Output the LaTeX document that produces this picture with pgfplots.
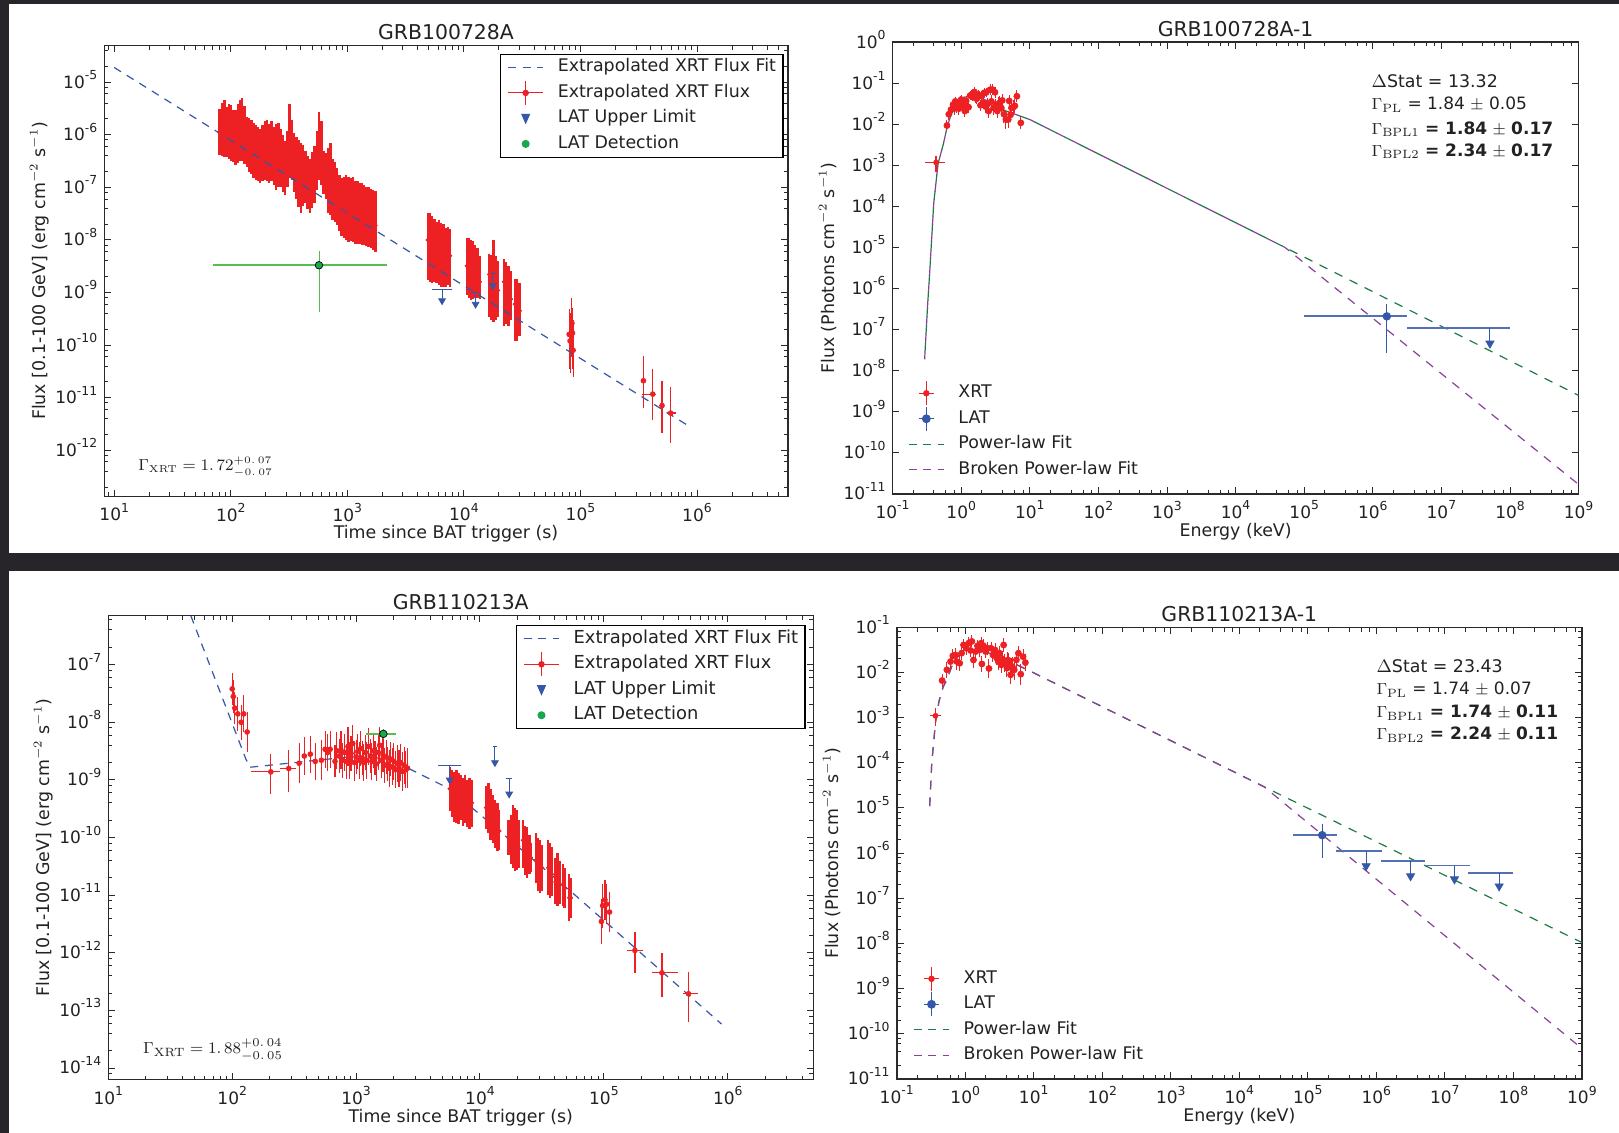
\documentclass[border=0pt]{standalone}
\usepackage[no-math]{fontspec}
\setmainfont{DejaVu Sans}
\usepackage{pgfplots}
\usepackage{pgfplotstable}
\pgfplotsset{compat=1.18}
\definecolor{bgdark}{HTML}{27252A}
\definecolor{axisc}{HTML}{2A2A2A}
\definecolor{textc}{HTML}{222222}
\definecolor{xrtred}{HTML}{ED2024}
\definecolor{latblue}{HTML}{3557A7}
\definecolor{fitgreen}{HTML}{1E7B45}
\definecolor{fitpurple}{HTML}{8A3F9A}
\definecolor{detgreen}{HTML}{18A84E}
\definecolor{detline}{HTML}{55BE4F}
\newcommand{\fs}{\fontsize{8.7}{10}\selectfont}
\newcommand{\fsg}{\fontsize{8.5}{10}\selectfont}
\newcommand{\fsc}{\fontsize{8.95}{10}\selectfont}
\newcommand{\pw}[1]{10\raisebox{.5em}{\fontsize{6.2}{7}\selectfont #1}}
\def\subsall#1{2e#1,3e#1,4e#1,5e#1,6e#1,7e#1,8e#1,9e#1}
\def\subsfour#1{2e#1,4e#1,6e#1,8e#1}
\edef\axminor{9e0,\subsall{1},\subsall{2},\subsall{3},\subsall{4},\subsall{5},2e6,3e6,4e6,5e6}
\edef\ayminor{\subsfour{-13},\subsfour{-12},\subsfour{-11},\subsfour{-10},\subsfour{-9},\subsfour{-8},\subsfour{-7},\subsfour{-6},2e-5,4e-5}
\edef\cxminor{\subsall{1},\subsall{2},\subsall{3},\subsall{4},\subsall{5},2e6,3e6,4e6}
\edef\cyminor{\subsfour{-15},\subsfour{-14},\subsfour{-13},\subsfour{-12},\subsfour{-11},\subsfour{-10},\subsfour{-9},\subsfour{-8},2e-7,4e-7,6e-7}
\edef\exminor{\subsfour{-1},\subsfour{0},\subsfour{1},\subsfour{2},\subsfour{3},\subsfour{4},\subsfour{5},\subsfour{6},\subsfour{7},\subsfour{8}}
\edef\dyminor{\subsfour{-11},\subsfour{-10},\subsfour{-9},\subsfour{-8},\subsfour{-7},\subsfour{-6},\subsfour{-5},\subsfour{-4},\subsfour{-3},\subsfour{-2}}
\pgfplotsset{
  scale only axis,
  xminorticks=false,yminorticks=false,
  extra tick style={major tick length=2.1pt,xticklabel=\empty,yticklabel=\empty},
  axis line style={line width=.8pt,color=axisc},
  tick style={line width=.5pt,color=axisc},
  major tick length=3.4pt,
  tick label style={font=\fsg,text=textc},
  yticklabel style={yshift=1.4pt},
  every axis title/.style={at={(axis description cs:.5,1)},anchor=center,yshift=6.6pt,font=\fontsize{10.2}{12}\selectfont,text=textc},
  every axis x label/.style={at={(axis description cs:.5,0)},anchor=center,yshift=-18.8pt,font=\fs,text=textc},
  every axis y label/.style={at={(axis description cs:0,.5)},xshift=-32.5pt,rotate=90,anchor=center,font=\fs,text=textc},
  legend cell align=left,
 lg/.style={legend style={font=\fs,text=textc,inner xsep=3.5pt,inner ysep=2.5pt,line width=.6pt,draw=black,
   row sep=4.45pt,column sep=7pt,nodes={inner sep=0pt,text height=6.4pt,text depth=1.9pt}}},
 nolg/.style={legend style={font=\fs,text=textc,inner xsep=3.5pt,inner ysep=2.5pt,draw=none,fill=none,
   row sep=4.45pt,column sep=7pt,nodes={inner sep=0pt,text height=6.4pt,text depth=1.9pt}}},
 xrtband/.style={forget plot,only marks,mark=*,mark size=.9pt,color=xrtred,
   error bars/.cd,y dir=both,y explicit,error mark=none,error bar style={line width=1.2pt,color=xrtred}},
 xrtthin/.style={forget plot,only marks,mark=*,mark size=1.2pt,color=xrtred,
   error bars/.cd,y dir=both,y explicit,error mark=none,error bar style={line width=.55pt,color=xrtred}},
 xrtcross/.style={forget plot,only marks,mark=*,mark size=1.2pt,color=xrtred,
   error bars/.cd,y dir=both,y explicit,x dir=both,x explicit,error mark=none,error bar style={line width=.6pt,color=xrtred}},
 xrtspec/.style={forget plot,only marks,mark=*,mark size=1.5pt,color=xrtred,
   error bars/.cd,y dir=both,y explicit,x dir=both,x explicit,error mark=none,error bar style={line width=.5pt,color=xrtred}},
 ullevel/.style={forget plot,draw=none,mark=none,error bars/.cd,x dir=both,x explicit,
   error mark=none,error bar style={line width=.7pt,color=latblue}},
 ullevelb/.style={forget plot,draw=none,mark=none,error bars/.cd,x dir=both,x explicit,
   error mark=none,error bar style={line width=.9pt,color=latblue!85}},
 ularrow/.style={forget plot,only marks,color=latblue,mark=triangle*,mark size=#1,mark options={rotate=180,fill=latblue,draw=latblue},
   error bars/.cd,y dir=plus,y explicit,error mark=none,error bar style={line width=.5pt,color=latblue}},
 fitblue/.style={forget plot,color=latblue,line width=.6pt,dash pattern=on 4pt off 3.4pt},
 fitg/.style={forget plot,color=fitgreen,line width=.6pt,dash pattern=on 4.4pt off 4pt},
 fitp/.style={forget plot,color=fitpurple,line width=.6pt,dash pattern=on 4.4pt off 4pt},
 /pgfplots/table/bandt/.style={x=t,y=y,y error plus expr=\thisrow{hi}-\thisrow{y},y error minus expr=\thisrow{y}-\thisrow{lo}},
 /pgfplots/table/fact/.style={x=t,y=y,y error plus expr=\thisrow{y}*(\thisrow{f}-1),y error minus expr=\thisrow{y}*(1-1/\thisrow{f})},
 /pgfplots/table/spect/.style={x=t,y=y,y error plus expr=\thisrow{y}*(\thisrow{f}-1),y error minus expr=\thisrow{y}*(1-1/\thisrow{f}),x error plus expr=\thisrow{t}*0.05,x error minus expr=\thisrow{t}*0.05},
 /pgfplots/table/crosst/.style={x=t,y=y,y error plus expr=\thisrow{hi}-\thisrow{y},y error minus expr=\thisrow{y}-\thisrow{lo},x error plus expr=\thisrow{xhi}-\thisrow{t},x error minus expr=\thisrow{t}-\thisrow{xlo}},
 /pgfplots/table/hbar/.style={x=t,y=y,x error plus expr=\thisrow{xhi}-\thisrow{t},x error minus expr=\thisrow{t}-\thisrow{xlo}},
 /pgfplots/table/ullt/.style={x=t,y=top,x error plus expr=\thisrow{xhi}-\thisrow{t},x error minus expr=\thisrow{t}-\thisrow{xlo}},
 /pgfplots/table/ult/.style={x=t,y=tip,y error plus expr=\thisrow{top}-\thisrow{tip}},
}
% legend glyphs
\pgfplotsset{
 lgfit/.style={legend image code/.code={\draw[#1,line width=.6pt,dash pattern=on 4pt off 3.2pt] (0pt,0pt)--(17.5pt,0pt);}},
 lgcross/.style={legend image code/.code={\draw[#1,line width=.55pt] (0pt,0pt)--(17.5pt,0pt);\draw[#1,line width=.55pt,overlay] (8.75pt,-6pt)--(8.75pt,6pt);\fill[#1,overlay] (8.75pt,0pt) circle (1.3pt);}},
 lgtri/.style={legend image code/.code={\path[draw=none,fill=none,use as bounding box] (0pt,0pt) rectangle (17.5pt,0pt);\fill[latblue,overlay] (6.9pt,2pt)--(10.6pt,2pt)--(8.75pt,-2.2pt)--cycle;}},
 lgdot/.style={legend image code/.code={\path[draw=none,fill=none,use as bounding box] (0pt,0pt) rectangle (17.5pt,0pt);\fill[detgreen,overlay] (8.75pt,0pt) circle (1.7pt);}},
 lgcross2/.style={legend image code/.code={\path[draw=none,fill=none,use as bounding box] (0pt,0pt) rectangle (17.5pt,0pt);\draw[latblue,line width=.55pt,overlay] (5pt,0pt)--(12.5pt,0pt) (8.75pt,-6pt)--(8.75pt,6pt);\fill[latblue,overlay] (8.75pt,0pt) circle (2pt);}},
 lgcross1/.style={legend image code/.code={\path[draw=none,fill=none,use as bounding box] (0pt,0pt) rectangle (17.5pt,0pt);\draw[xrtred,line width=.55pt,overlay] (5pt,0pt)--(12.5pt,0pt) (8.75pt,-6pt)--(8.75pt,6pt);\fill[xrtred,overlay] (8.75pt,0pt) circle (1.4pt);}},
}
% ---------- panel A data
\pgfplotstableread{
t y lo hi
80 1.1e-6 4.1e-7 3.1e-6
84 1.3e-6 3.9e-7 4.0e-6
88 1.2e-6 3.7e-7 4.6e-6
92 1.1e-6 3.8e-7 3.4e-6
96 1.2e-6 3.5e-7 3.9e-6
100 1.0e-6 3.2e-7 3.6e-6
105 9e-7 3.0e-7 2.9e-6
110 9e-7 2.7e-7 2.9e-6
115 1.0e-6 2.9e-7 3.8e-6
120 1.2e-6 3.2e-7 4.6e-6
125 1.2e-6 3.1e-7 4.9e-6
131 9e-7 2.8e-7 3.5e-6
137 7e-7 2.4e-7 2.2e-6
143 6.5e-7 2.0e-7 2.1e-6
150 6e-7 1.8e-7 1.9e-6
157 5e-7 1.5e-7 1.7e-6
164 4.6e-7 1.4e-7 1.5e-6
171 4.3e-7 1.3e-7 1.4e-6
179 4e-7 1.2e-7 1.3e-6
187 4.4e-7 1.3e-7 1.5e-6
196 5e-7 1.4e-7 1.8e-6
205 5e-7 1.3e-7 1.9e-6
214 4.4e-7 1.2e-7 1.6e-6
224 4.8e-7 1.3e-7 1.8e-6
234 4e-7 1.1e-7 1.4e-6
245 3.8e-7 9e-8 1.6e-6
256 4.1e-7 1.0e-7 1.7e-6
268 3.6e-7 1.0e-7 1.3e-6
280 2.8e-7 8e-8 1.0e-6
293 2.3e-7 7.2e-8 7.5e-7
306 3.4e-7 1.0e-7 1.2e-6
320 7.5e-7 1.5e-7 3.9e-6
335 5e-7 1.4e-7 1.9e-6
350 3e-7 8e-8 1.1e-6
366 2.3e-7 6e-8 9e-7
382 1.9e-7 4.3e-8 8e-7
400 1.5e-7 3.2e-8 7e-7
418 1.7e-7 4.5e-8 6.5e-7
437 1.6e-7 5e-8 5e-7
457 1.2e-7 3.8e-8 3.9e-7
478 1e-7 3.2e-8 3.5e-7
500 1.4e-7 4e-8 4.8e-7
523 1.8e-7 5e-8 6e-7
547 3.2e-7 9e-8 1.2e-6
572 6.5e-7 1.4e-7 2.7e-6
598 4.5e-7 1.1e-7 1.8e-6
625 1.9e-7 7.5e-8 5e-7
654 1.7e-7 6e-8 4.5e-7
684 1.3e-7 3.2e-8 5.5e-7
715 1.4e-7 3e-8 7e-7
747 8e-8 2.4e-8 3.4e-7
781 7e-8 2.2e-8 3e-7
817 6e-8 1.9e-8 2.3e-7
854 5e-8 1.5e-8 1.7e-7
893 4.2e-8 1.2e-8 1.5e-7
934 4e-8 1.1e-8 1.6e-7
976 3.8e-8 1.0e-8 1.7e-7
1020 3.6e-8 9e-9 1.6e-7
1067 3.5e-8 9.5e-9 1.5e-7
1115 3.4e-8 9e-9 1.6e-7
1166 3e-8 8.5e-9 1.3e-7
1219 3e-8 8.5e-9 1.3e-7
1275 2.9e-8 8.2e-9 1.2e-7
1333 2.8e-8 8e-9 1.2e-7
1394 2.6e-8 8e-9 1.1e-7
1457 2.4e-8 7.6e-9 1e-7
1523 2.3e-8 7.2e-9 1e-7
1593 2.2e-8 7e-9 9.5e-8
1665 2.1e-8 6.4e-9 9e-8
1741 1.9e-8 6e-9 8.5e-8
4900 1.0e-8 1.7e-9 3.3e-8
5120 8e-9 1.6e-9 3.3e-8
5350 7e-9 1.5e-9 2.8e-8
5590 7e-9 1.6e-9 2.5e-8
5840 6e-9 1.5e-9 2.2e-8
6100 6.5e-9 1.4e-9 2.4e-8
6380 5.5e-9 1.3e-9 2.1e-8
6670 5e-9 1.3e-9 2e-8
6970 4.5e-9 1.3e-9 1.7e-8
7280 4.5e-9 1.4e-9 1.8e-8
7600 5e-9 1.3e-9 1.6e-8
10600 3.2e-9 9e-10 1.1e-8
11000 2.6e-9 8e-10 1.1e-8
11500 2.4e-9 7.3e-10 1e-8
12000 2.6e-9 7.5e-10 9.5e-9
12500 2e-9 8e-10 8e-9
13100 1.8e-9 8e-10 7e-9
13700 1.6e-9 7.5e-10 5e-9
16500 2.2e-9 3.5e-10 5.5e-9
17200 1.5e-9 3e-10 5.2e-9
17900 1.3e-9 2.8e-10 1e-8
18700 1.2e-9 3e-10 5e-9
19600 1.1e-9 3.5e-10 4e-9
22100 1.6e-9 2.3e-10 4.4e-9
23000 1.2e-9 2.5e-10 3.8e-9
24100 9e-10 2.3e-10 3.2e-9
25300 7.5e-10 3e-10 2.6e-9
27400 6e-10 1.2e-10 1.8e-9
28700 5.5e-10 1.2e-10 1.8e-9
30100 4.5e-10 1.5e-10 1.5e-9
}\bandA
\pgfplotstableread{
t y lo hi
80000 1.6e-10 3.5e-11 4.9e-10
81500 1.2e-10 3e-11 4e-10
84500 2.6e-10 6e-11 7.9e-10
85500 1.7e-10 3.5e-11 5e-10
86500 8e-11 2.5e-11 3e-10
347000 2.1e-11 6.3e-12 6.2e-11
501000 7.1e-12 2.1e-12 2.1e-11
}\thinA
\pgfplotstableread{
t y lo hi xlo xhi
417000 1.17e-11 3.8e-12 3.5e-11 339000 447000
594000 5.1e-12 1.4e-12 1.6e-11 550000 660000
}\crossA
\pgfplotstableread{
t top tip xlo xhi
6500 1.15e-9 7e-10 5370 7900
12600 1e-9 6e-10 11500 13500
17700 2.3e-9 1.35e-9 16800 18700
}\ulA
% ---------- panel B data
\pgfplotstableread{
t y f
0.62 0.0093 1.35
0.66 0.0175 1.4
0.71 0.0226 1.4
0.76 0.030 1.35
0.79 0.024 1.4
0.82 0.036 1.3
0.855 0.026 1.4
0.885 0.030 1.35
0.925 0.024 1.4
0.97 0.036 1.35
1.0 0.040 1.3
1.045 0.028 1.4
1.08 0.030 1.35
1.13 0.021 1.4
1.18 0.037 1.35
1.24 0.026 1.4
1.28 0.026 1.35
1.35 0.050 1.3
1.41 0.052 1.3
1.48 0.047 1.3
1.56 0.061 1.3
1.63 0.043 1.3
1.69 0.042 1.35
1.76 0.052 1.3
1.82 0.050 1.3
1.91 0.029 1.35
2.0 0.050 1.3
2.08 0.033 1.35
2.15 0.058 1.3
2.25 0.027 1.4
2.3 0.059 1.3
2.43 0.031 1.4
2.52 0.021 1.45
2.63 0.069 1.35
2.75 0.036 1.4
2.84 0.070 1.35
2.97 0.025 1.45
3.11 0.060 1.35
3.21 0.030 1.4
3.36 0.021 1.5
3.52 0.031 1.45
3.67 0.034 1.45
3.84 0.025 1.45
3.97 0.038 1.4
4.2 0.0175 1.6
4.49 0.013 1.7
4.85 0.013 1.6
5.0 0.037 1.4
5.25 0.017 1.5
5.4 0.025 1.5
5.73 0.026 1.5
6.06 0.028 1.5
6.48 0.048 1.4
7.4 0.0108 1.45
}\specB
% ---------- panel C data
\pgfplotstableread{
t y lo hi
5700 7e-10 2.9e-10 1.7e-9
5940 6.5e-10 2.3e-10 1.5e-9
6190 5.5e-10 1.9e-10 1.4e-9
6450 5.5e-10 1.8e-10 1.5e-9
6720 5e-10 1.7e-10 1.3e-9
7000 5e-10 2e-10 1.2e-9
7290 4.5e-10 1.6e-10 1.1e-9
7600 4.5e-10 1.8e-10 1.2e-9
7920 4e-10 1.5e-10 1e-9
8250 4e-10 1.4e-10 1.1e-9
8600 4e-10 1.5e-10 1e-9
11200 3.3e-10 1.4e-10 8e-10
11700 3e-10 1.2e-10 8.8e-10
12200 2.4e-10 9e-11 7e-10
12700 2e-10 8e-11 5.5e-10
13200 1.7e-10 6.5e-11 4.5e-10
13800 1.5e-10 5.9e-11 4e-10
14300 1.3e-10 6e-11 3e-10
17000 1e-10 5e-11 2e-10
17700 9e-11 3.5e-11 2.5e-10
18400 1.1e-10 3e-11 3.7e-10
19100 9e-11 2.6e-11 3.2e-10
19900 8e-11 2.7e-11 3e-10
20400 7e-11 3e-11 2e-10
22200 9e-11 3e-11 2e-10
23100 6e-11 2.2e-11 1.6e-10
24000 5.5e-11 2e-11 1.5e-10
25000 5e-11 2.3e-11 1.1e-10
25700 4.5e-11 2.5e-11 8e-11
28200 4e-11 1.6e-11 1.2e-10
29300 3.5e-11 1.2e-11 1e-10
30500 3e-11 1.1e-11 9e-11
31600 3e-11 1.2e-11 7.5e-11
35500 3e-11 1e-11 9e-11
36600 2.5e-11 9e-12 8e-11
38000 2.3e-11 9.5e-12 7e-11
40700 1.7e-11 7e-12 4.5e-11
42200 1.9e-11 6.6e-12 5.5e-11
43700 1.6e-11 7e-12 4e-11
46800 1.5e-11 6.5e-12 3.5e-11
48200 1.3e-11 6e-12 3e-11
52500 9e-12 3.5e-12 2.3e-11
54200 9e-12 4e-12 2e-11
}\bandC
\pgfplotstableread{
t y f
100 3.8e-8 1.9
102 2.8e-8 1.9
105 1.76e-8 1.9
111 1.4e-8 2
118 1e-8 2
124 1.4e-8 2.1
132 6.8e-9 2.2
347 1.95e-9 2.2
382 2.6e-9 2.1
427 2.8e-9 2.1
468 2.1e-9 2.1
525 2.2e-9 2.2
562 3.4e-9 2.1
590 3e-9 2.1
617 3.4e-9 2.1
676 2.1e-9 1.9
700 3.2e-9 2.1
730 2.6e-9 2
755 3.3e-9 2.1
780 2.2e-9 2
810 3.0e-9 2.1
835 2.1e-9 2
860 3.8e-9 2.2
885 2.2e-9 2.1
910 2.9e-9 2
940 4.3e-9 2.1
970 2e-9 2.1
1000 2.5e-9 2
1030 3.1e-9 2
1060 2.2e-9 2.1
1090 3.5e-9 2
1120 2.4e-9 2
1150 2.0e-9 2.1
1190 3.0e-9 2
1220 2.2e-9 2.1
1260 3.8e-9 2.1
1300 2.6e-9 2
1340 2.1e-9 2.1
1380 3.2e-9 2
1420 2.4e-9 2
1460 1.9e-9 2
1510 3e-9 2
1550 4e-9 2.1
1600 2.2e-9 2
1650 2.7e-9 2
1700 1.8e-9 2
1750 2.5e-9 2
1800 1.9e-9 2
1850 1.6e-9 2.1
1900 2.3e-9 2
1960 1.7e-9 2.1
2020 2.1e-9 2.1
2080 1.5e-9 2.1
2150 1.9e-9 2.1
2220 1.6e-9 2.1
2290 2.0e-9 2.1
2360 1.4e-9 2.2
2440 1.8e-9 2.1
2520 1.5e-9 2.1
2600 1.6e-9 2.2
95500 3.5e-12 2.5
97700 6.6e-12 2.4
102000 8.3e-12 2.2
105000 7e-12 2.2
111000 5.1e-12 2.2
}\thinC
\pgfplotstableread{
t y lo hi xlo xhi
205 1.38e-9 5.7e-10 2.8e-9 141 245
286 1.58e-9 6.3e-10 3.3e-9 245 325
178000 1.1e-12 4.4e-13 2.3e-12 155000 207000
294000 4.5e-13 1.7e-13 1e-12 243000 398000
482000 1.95e-13 6.3e-14 4.6e-13 434000 580000
}\crossC
\pgfplotstableread{
t top tip xlo xhi
5690 1.8e-9 1e-9 4570 7080
13200 3.8e-9 2e-9 12700 13700
17200 1.05e-9 5.7e-10 16200 18200
}\ulC
% ---------- panel D data
\pgfplotstableread{
t y f
0.46 6.65e-3 1.4
0.54 0.0115 1.5
0.61 0.0175 1.45
0.66 0.0234 1.45
0.72 0.0245 1.4
0.755 0.0175 1.5
0.83 0.0161 1.5
0.885 0.0268 1.4
0.945 0.0408 1.35
1.035 0.0345 1.4
1.12 0.0447 1.35
1.2 0.0308 1.4
1.25 0.049 1.35
1.32 0.019 1.5
1.42 0.0292 1.4
1.51 0.0389 1.35
1.62 0.0316 1.4
1.71 0.0447 1.35
1.75 0.0155 1.5
1.85 0.0389 1.4
1.98 0.0292 1.4
2.1 0.0345 1.4
2.22 0.0123 1.6
2.38 0.0345 1.4
2.54 0.0245 1.45
2.72 0.0316 1.4
2.88 0.0209 1.45
3.04 0.0175 1.5
3.18 0.0268 1.45
3.36 0.0148 1.5
3.5 0.0200 1.5
3.64 0.0408 1.4
3.8 0.0162 1.55
4.07 0.0125 1.6
4.2 0.0190 1.5
4.35 0.0175 1.55
4.6 0.0089 1.6
4.75 0.0130 1.6
4.87 0.0136 1.6
5.2 0.0115 1.65
5.58 0.019 1.5
5.97 0.0268 1.45
6.46 0.0092 1.7
6.98 0.0224 1.5
7.55 0.0166 1.55
}\specD
\pgfplotstableread{
t top tip xlo xhi
7.1e5 1.1e-6 5.2e-7 2.6e5 1.2e6
3.16e6 6.6e-7 3.1e-7 1.15e6 5.1e6
1.38e7 5.3e-7 2.65e-7 5.1e6 2.3e7
6.2e7 3.7e-7 1.85e-7 2.2e7 1e8
}\ulD
\begin{document}
\begin{tikzpicture}[x=1pt,y=1pt]
\useasboundingbox (0,0) rectangle (809.5,566.5);
\fill[bgdark] (0,0) rectangle (809.5,566.5);
\fill[white] (4.5,290.2) rectangle (809.5,564.5);
\fill[white] (4.5,0) rectangle (809.5,281);
% ===== A
\begin{loglogaxis}[lg,anchor=south west,at={(52.15pt,318.3pt)},width=341.7pt,height=225.5pt,
 title={GRB100728A},xlabel={Time since BAT trigger (s)},
 ylabel={Flux [0.1-100 GeV] (erg cm$^{-2}$ s$^{-1}$)},
 xmin=8.22,xmax=6e6,ymin=1.33e-13,ymax=5e-5,
 xtick={1e1,1e2,1e3,1e4,1e5,1e6},xticklabels={\pw{1},\pw{2},\pw{3},\pw{4},\pw{5},\pw{6}},
 ytick={1e-12,1e-11,1e-10,1e-9,1e-8,1e-7,1e-6,1e-5},
 yticklabels={\pw{-12},\pw{-11},\pw{-10},\pw{-9},\pw{-8},\pw{-7},\pw{-6},\pw{-5}},
 extra x ticks/.expanded={\axminor},extra y ticks/.expanded={\ayminor},
 legend style={at={(axis description cs:.579,.982)},anchor=north west}]
\addplot[xrtband] table[bandt] {\bandA};
\addplot[xrtthin] table[bandt] {\thinA};
\addplot[xrtcross] table[crosst] {\crossA};
\addplot[fitblue] coordinates {(10,1.9e-5) (8.7e5,2.8e-12)};
\addplot[ullevel] table[ullt] {\ulA};
\addplot[ularrow=1.9pt] table[ult] {\ulA};
\addplot[forget plot,draw=none,mark=none,error bars/.cd,x dir=both,x explicit,error mark=none,error bar style={line width=.8pt,color=detline}]
 table[hbar] {
t y xlo xhi
571 3.3e-9 70 2190
};
\addplot[forget plot,only marks,mark=*,mark size=1.9pt,mark options={fill=detgreen,draw=black,line width=.35pt},error bars/.cd,y dir=both,y explicit,error mark=none,error bar style={line width=.4pt,color=detline}]
 table[bandt] {
t y lo hi
571 3.3e-9 4.2e-10 6.2e-9
};
\addlegendimage{lgfit=latblue}\addlegendentry{Extrapolated XRT Flux Fit}
\addlegendimage{lgcross=xrtred}\addlegendentry{Extrapolated XRT Flux}
\addlegendimage{lgtri}\addlegendentry{LAT Upper Limit}
\addlegendimage{lgdot}\addlegendentry{LAT Detection}
\node[anchor=west,text=textc,font=\fontsize{7.8}{10}\selectfont] at (rel axis cs:.0395,.065) {$\Gamma_{\rm XRT}=1.\,72^{+0.\,07}_{-0.\,07}$};
\end{loglogaxis}
% ===== B
\begin{loglogaxis}[nolg,anchor=south west,at={(446.3pt,319.55pt)},width=343pt,height=225.9pt,
 title={GRB100728A-1},xlabel={Energy (keV)},
 ylabel={Flux (Photons cm$^{-2}$ s$^{-1}$)},
 xmin=0.1,xmax=1e9,ymin=1e-11,ymax=1,
 xtick={1e-1,1e0,1e1,1e2,1e3,1e4,1e5,1e6,1e7,1e8,1e9},
 xticklabels={\pw{-1},\pw{0},\pw{1},\pw{2},\pw{3},\pw{4},\pw{5},\pw{6},\pw{7},\pw{8},\pw{9}},
 ytick={1e-11,1e-10,1e-9,1e-8,1e-7,1e-6,1e-5,1e-4,1e-3,1e-2,1e-1,1e0},
 yticklabels={\pw{-11},\pw{-10},\pw{-9},\pw{-8},\pw{-7},\pw{-6},\pw{-5},\pw{-4},\pw{-3},\pw{-2},\pw{-1},\pw{0}},
 extra x ticks/.expanded={\exminor},
 legend style={at={(axis description cs:.012,.253)},anchor=north west}]
\addplot[fitp] coordinates {(0.293,1.9e-8)(0.325,4.3e-7)(0.348,2.6e-6)(0.398,1.2e-4)(0.46,1.1e-3)(0.547,3.2e-3)(0.617,7.9e-3)(0.7,1.6e-2)(0.87,3.2e-2)(1.12,4.6e-2)(1.47,4.8e-2)(2.26,3.9e-2)(4.5,2.1e-2)(10,1.3e-2)(5.25e4,1e-5)(1e9,1.7e-11)};
\addplot[fitg,dash phase=4.2pt] coordinates {(0.293,1.9e-8)(0.325,4.3e-7)(0.348,2.6e-6)(0.398,1.2e-4)(0.46,1.1e-3)(0.547,3.2e-3)(0.617,7.9e-3)(0.7,1.6e-2)(0.87,3.2e-2)(1.12,4.6e-2)(1.47,4.8e-2)(2.26,3.9e-2)(4.5,2.1e-2)(10,1.3e-2)(5.25e4,1e-5)(1e9,2.5e-9)};
\addplot[xrtspec] table[spect] {\specB};
\addplot[xrtcross] table[crosst] {
t y lo hi xlo xhi
0.43 1.17e-3 6.7e-4 1.66e-3 0.298 0.586
};
\addplot[ullevelb] table[hbar] {
t y xlo xhi
1.6e6 2.1e-7 1e5 3.16e6
};
\addplot[forget plot,only marks,mark=*,mark size=1.9pt,color=latblue,error bars/.cd,y dir=both,y explicit,error mark=none,error bar style={line width=.5pt,color=latblue}]
 table[bandt] {
t y lo hi
1.6e6 2.1e-7 2.7e-8 4.1e-7
};
\addplot[ullevelb] table[ullt] {
t top tip xlo xhi
5.1e7 1.07e-7 4.6e-8 3.16e6 1e8
};
\addplot[ularrow=2.3pt] table[ult] {
t top tip xlo xhi
5.1e7 1.07e-7 4.6e-8 3.16e6 1e8
};
\addlegendimage{lgcross1}\addlegendentry{XRT}
\addlegendimage{lgcross2}\addlegendentry{LAT}
\addlegendimage{lgfit=fitgreen}\addlegendentry{Power-law Fit}
\addlegendimage{lgfit=fitpurple}\addlegendentry{Broken Power-law Fit}
\node[anchor=west,text=textc,font=\fs] at (rel axis cs:.688,.9139) {$\Delta$Stat = 13.32};
\node[anchor=west,text=textc,font=\fsg] at (rel axis cs:.688,.861) {$\Gamma_{\rm PL}$ = 1.84 $\pm$ 0.05};
\node[anchor=west,text=textc,font=\fsg] at (rel axis cs:.688,.8075) {$\Gamma_{\rm BPL1}$ \textbf{= 1.84} $\pm$ \textbf{0.17}};
\node[anchor=west,text=textc,font=\fsg] at (rel axis cs:.688,.7587) {$\Gamma_{\rm BPL2}$ \textbf{= 2.34} $\pm$ \textbf{0.17}};
\end{loglogaxis}
% ===== C
\begin{loglogaxis}[lg,anchor=south west,at={(54.15pt,26.65pt)},width=352.5pt,height=232.05pt,
 title={GRB110213A},xlabel={Time since BAT trigger (s)},
 ylabel={Flux [0.1-100 GeV] (erg cm$^{-2}$ s$^{-1}$)},
 xmin=10,xmax=4.9e6,ymin=6.3e-15,ymax=7.1e-7,
 xtick={1e1,1e2,1e3,1e4,1e5,1e6},xticklabels={\pw{1},\pw{2},\pw{3},\pw{4},\pw{5},\pw{6}},
 ytick={1e-14,1e-13,1e-12,1e-11,1e-10,1e-9,1e-8,1e-7},
 yticklabels={\pw{-14},\pw{-13},\pw{-12},\pw{-11},\pw{-10},\pw{-9},\pw{-8},\pw{-7}},
 extra x ticks/.expanded={\cxminor},extra y ticks/.expanded={\cyminor},
 legend style={font=\fsc,at={(axis description cs:.578,.98)},anchor=north west}]
\addplot[fitblue] coordinates {(46.4,7e-7)(129,2.3e-9)(139,1.66e-9)(1535,2.84e-9)(5690,7e-10)(55800,1.1e-11)(891000,5.8e-14)};
\addplot[xrtband] table[bandt] {\bandC};
\addplot[xrtthin] table[fact] {\thinC};
\addplot[xrtcross] table[crosst] {\crossC};
\addplot[ullevel] table[ullt] {\ulC};
\addplot[ularrow=1.9pt] table[ult] {\ulC};
\addplot[forget plot,draw=none,mark=none,error bars/.cd,x dir=both,x explicit,error mark=none,error bar style={line width=.8pt,color=detline}]
 table[hbar] {
t y xlo xhi
1660 6.3e-9 1200 2110
};
\addplot[forget plot,only marks,mark=*,mark size=1.9pt,mark options={fill=detgreen,draw=black,line width=.35pt},error bars/.cd,y dir=both,y explicit,error mark=none,error bar style={line width=.4pt,color=detline}]
 table[bandt] {
t y lo hi
1660 6.3e-9 5.2e-9 7.6e-9
};
\addlegendimage{lgfit=latblue}\addlegendentry{Extrapolated XRT Flux Fit}
\addlegendimage{lgcross=xrtred}\addlegendentry{Extrapolated XRT Flux}
\addlegendimage{lgtri}\addlegendentry{LAT Upper Limit}
\addlegendimage{lgdot}\addlegendentry{LAT Detection}
\node[anchor=west,text=textc,font=\fontsize{8}{10}\selectfont] at (rel axis cs:.0395,.064) {$\Gamma_{\rm XRT}=1.\,88^{+0.\,04}_{-0.\,05}$};
\end{loglogaxis}
% ===== D
\begin{loglogaxis}[nolg,anchor=south west,at={(448.35pt,27.05pt)},width=342.6pt,height=225.75pt,
 title={GRB110213A-1},xlabel={Energy (keV)},
 ylabel={Flux (Photons cm$^{-2}$ s$^{-1}$)},
 xmin=0.1,xmax=1e9,ymin=1e-11,ymax=0.1,
 xtick={1e-1,1e0,1e1,1e2,1e3,1e4,1e5,1e6,1e7,1e8,1e9},
 xticklabels={\pw{-1},\pw{0},\pw{1},\pw{2},\pw{3},\pw{4},\pw{5},\pw{6},\pw{7},\pw{8},\pw{9}},
 ytick={1e-11,1e-10,1e-9,1e-8,1e-7,1e-6,1e-5,1e-4,1e-3,1e-2,1e-1},
 yticklabels={\pw{-11},\pw{-10},\pw{-9},\pw{-8},\pw{-7},\pw{-6},\pw{-5},\pw{-4},\pw{-3},\pw{-2},\pw{-1}},
 extra x ticks/.expanded={\exminor},extra y ticks/.expanded={\dyminor},
 legend style={at={(axis description cs:.0136,.252)},anchor=north west}]
\addplot[fitg] coordinates {(0.303,1.1e-5)(0.325,1e-4)(0.367,7.6e-4)(0.414,2.3e-3)(0.476,4.8e-3)(0.537,6.8e-3)(0.697,2e-2)(0.986,2.9e-2)(1.35,3.2e-2)(1.97,2.9e-2)(3.31,2.1e-2)(5.58,1.5e-2)(8.6,1.1e-2)(2.3e4,2.95e-5)(1e9,1.05e-8)};
\addplot[fitp] coordinates {(0.303,1.1e-5)(0.325,1e-4)(0.367,7.6e-4)(0.414,2.3e-3)(0.476,4.8e-3)(0.537,6.8e-3)(0.697,2e-2)(0.986,2.9e-2)(1.35,3.2e-2)(1.97,2.9e-2)(3.31,2.1e-2)(5.58,1.5e-2)(8.6,1.1e-2)(2.3e4,2.95e-5)(1e9,4.7e-11)};
\addplot[xrtspec] table[spect] {\specD};
\addplot[xrtcross] table[crosst] {
t y lo hi xlo xhi
0.367 1.1e-3 6.6e-4 1.6e-3 0.303 0.445
};
\addplot[ullevelb] table[hbar] {
t y xlo xhi
1.62e5 2.5e-6 6e4 2.7e5
};
\addplot[forget plot,only marks,mark=*,mark size=1.9pt,color=latblue,error bars/.cd,y dir=both,y explicit,error mark=none,error bar style={line width=.5pt,color=latblue}]
 table[bandt] {
t y lo hi
1.62e5 2.5e-6 7.8e-7 4.4e-6
};
\addplot[ullevelb] table[ullt] {\ulD};
\addplot[ularrow=2.3pt] table[ult] {\ulD};
\addlegendimage{lgcross1}\addlegendentry{XRT}
\addlegendimage{lgcross2}\addlegendentry{LAT}
\addlegendimage{lgfit=fitgreen}\addlegendentry{Power-law Fit}
\addlegendimage{lgfit=fitpurple}\addlegendentry{Broken Power-law Fit}
\node[anchor=west,text=textc,font=\fs] at (rel axis cs:.69,.9145) {$\Delta$Stat = 23.43};
\node[anchor=west,text=textc,font=\fsg] at (rel axis cs:.69,.862) {$\Gamma_{\rm PL}$ = 1.74 $\pm$ 0.07};
\node[anchor=west,text=textc,font=\fsg] at (rel axis cs:.69,.811) {$\Gamma_{\rm BPL1}$ \textbf{= 1.74} $\pm$ \textbf{0.11}};
\node[anchor=west,text=textc,font=\fsg] at (rel axis cs:.69,.762) {$\Gamma_{\rm BPL2}$ \textbf{= 2.24} $\pm$ \textbf{0.11}};
\end{loglogaxis}
\end{tikzpicture}
\end{document}
